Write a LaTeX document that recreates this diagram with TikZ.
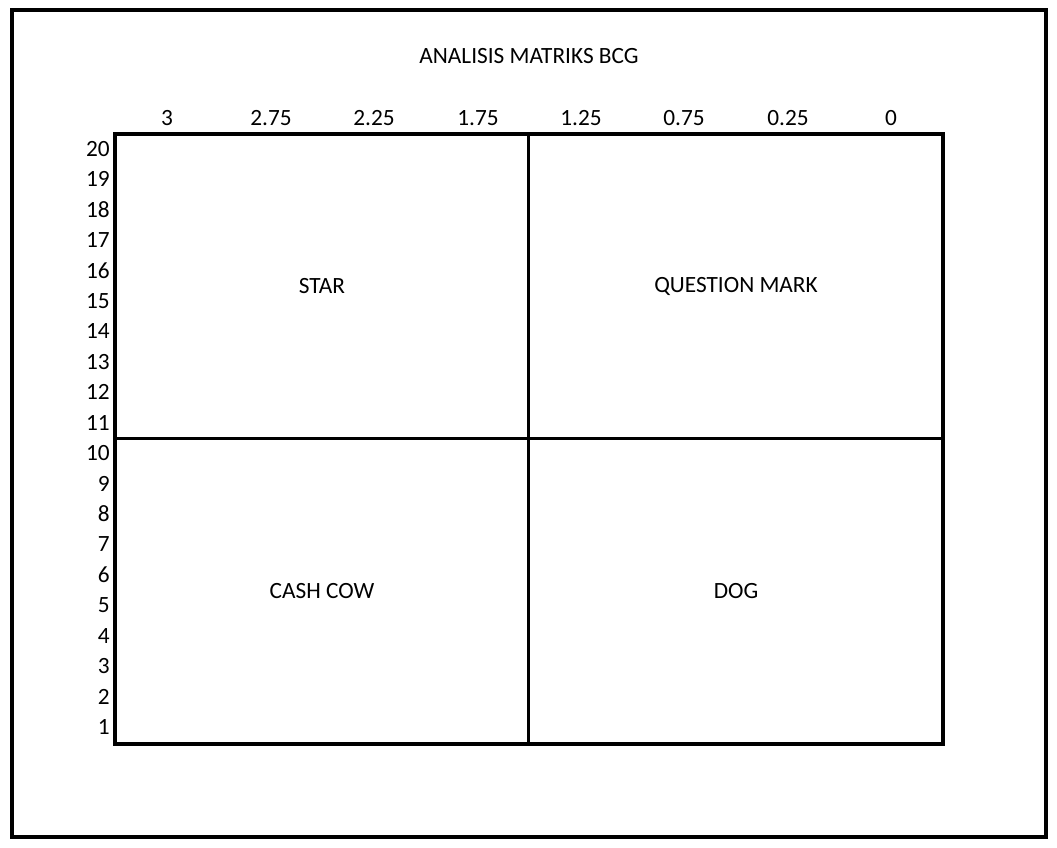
\documentclass[tikz,border=0pt]{standalone}
\usepackage{fontspec}
\setmainfont{Carlito}
\begin{document}
\begin{tikzpicture}[x=1pt, y=-1pt, font=\fontsize{23.3}{28}\selectfont]
                \useasboundingbox (0, 0) rectangle (1057, 848);
                \draw [line width=4pt] (12, 10) rectangle (1046, 837);
                \draw [line width=4.5pt] (115, 134) rectangle (943, 744);
                \draw [line width=2.8pt] (528.5, 134) -- (528.5, 744);
                \draw [line width=2.8pt] (115, 438.5) -- (943, 438.5);
                \node (title) at (529, 56) {ANALISIS MATRIKS BCG};
                \node (star) at (322, 286) {STAR};
                \node (qmark) at (736, 286) {QUESTION MARK};
                \node (cashcow) at (322, 591) {CASH COW};
                \node (dog) at (736, 591) {DOG};
                \node (x1) at (167, 118) {3};
                \node (x2) at (271, 118) {2.75};
                \node (x3) at (374, 118) {2.25};
                \node (x4) at (478, 118) {1.75};
                \node (x5) at (581, 118) {1.25};
                \node (x6) at (684, 118) {0.75};
                \node (x7) at (788, 118) {0.25};
                \node (x8) at (891, 118) {0};
                \node [left, inner sep=0pt] (y20) at (110, 149) {20};
                \node [left, inner sep=0pt] (y19) at (110, 179.4) {19};
                \node [left, inner sep=0pt] (y18) at (110, 209.8) {18};
                \node [left, inner sep=0pt] (y17) at (110, 240.3) {17};
                \node [left, inner sep=0pt] (y16) at (110, 270.7) {16};
                \node [left, inner sep=0pt] (y15) at (110, 301.1) {15};
                \node [left, inner sep=0pt] (y14) at (110, 331.5) {14};
                \node [left, inner sep=0pt] (y13) at (110, 361.9) {13};
                \node [left, inner sep=0pt] (y12) at (110, 392.4) {12};
                \node [left, inner sep=0pt] (y11) at (110, 422.8) {11};
                \node [left, inner sep=0pt] (y10) at (110, 453.2) {10};
                \node [left, inner sep=0pt] (y9) at (110, 483.6) {9};
                \node [left, inner sep=0pt] (y8) at (110, 514.1) {8};
                \node [left, inner sep=0pt] (y7) at (110, 544.5) {7};
                \node [left, inner sep=0pt] (y6) at (110, 574.9) {6};
                \node [left, inner sep=0pt] (y5) at (110, 605.3) {5};
                \node [left, inner sep=0pt] (y4) at (110, 635.7) {4};
                \node [left, inner sep=0pt] (y3) at (110, 666.2) {3};
                \node [left, inner sep=0pt] (y2) at (110, 696.6) {2};
                \node [left, inner sep=0pt] (y1) at (110, 727) {1};
            \end{tikzpicture}
\end{document}
